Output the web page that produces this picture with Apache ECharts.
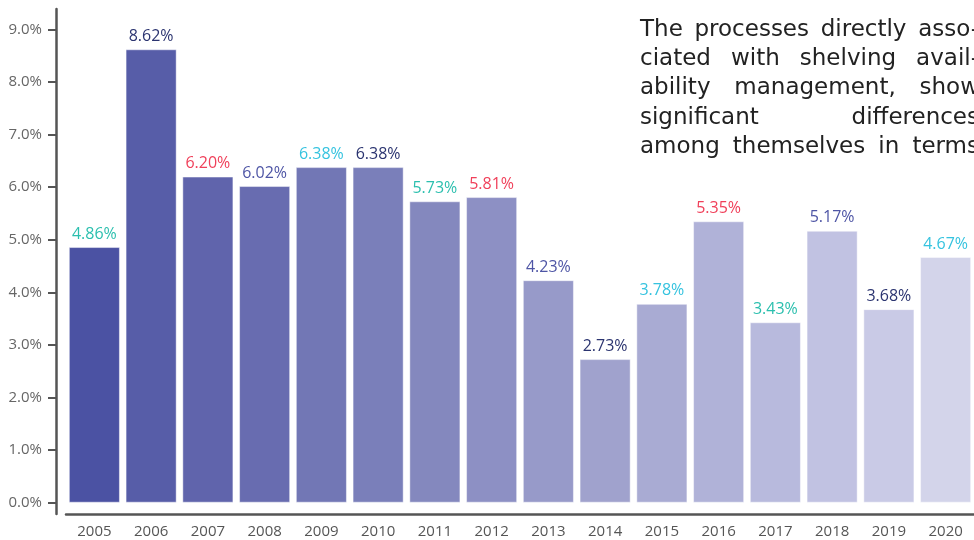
<!DOCTYPE html>
<html>
<head>
<meta charset="utf-8">
<script src="https://cdn.jsdelivr.net/npm/echarts@6/dist/echarts.min.js"></script>
<style>
  html, body { margin: 0; padding: 0; background: #fff; }
  #chart { width: 974px; height: 540px; }
</style>
</head>
<body>
<div id="chart"></div>
<script>
// Yearly share values (%) per year
const years = ['2005','2006','2007','2008','2009','2010','2011','2012','2013','2014','2015','2016','2017','2018','2019','2020'];
const shares = [4.86, 8.62, 6.20, 6.02, 6.38, 6.38, 5.73, 5.81, 4.23, 2.73, 3.78, 5.35, 3.43, 5.17, 3.68, 4.67];
const yTicks = [0, 1, 2, 3, 4, 5, 6, 7, 8, 9];

// Side note, one entry per justified line
const noteLines = [
  'The processes directly asso-',
  'ciated with shelving avail-',
  'ability management, show',
  'significant differences',
  'among themselves in terms'
];

// Fill shades, dark to light across the years
const barColors = ['#4b52a3','#575da8','#6064ac','#686cb0','#7277b5','#7a7fba','#8488be','#8d90c4',
                   '#979ac9','#a0a2cd','#a9abd3','#b0b2d8','#b8badd','#c1c2e2','#c9cae6','#d3d4ea'];
const TEAL = '#2bbfae', NAVY = '#2b3470', RED = '#f0405a', INDIGO = '#4e55a5', CYAN = '#35c3df';
const labelColors = [TEAL, NAVY, RED, INDIGO, CYAN, NAVY, TEAL, RED, INDIGO, NAVY, CYAN, RED, TEAL, INDIGO, NAVY, CYAN];

const AXIS = '#555';
const chart = echarts.init(document.getElementById('chart'), null, { renderer: 'canvas' });

// Justify each note line between a left and right edge
const noteFont = '23px "DejaVu Sans"';
const noteLeft = 640, noteRight = 979, noteTop = 30, noteStep = 29.2;
const measureCtx = document.createElement('canvas').getContext('2d');
measureCtx.font = noteFont;
const noteGraphics = [];
noteLines.forEach((line, li) => {
  const words = line.split(' ');
  const widths = words.map(w => measureCtx.measureText(w).width);
  const total = widths.reduce((a, b) => a + b, 0);
  const gap = words.length > 1 ? (noteRight - noteLeft - total) / (words.length - 1) : 0;
  let x = noteLeft;
  words.forEach((w, wi) => {
    noteGraphics.push({
      type: 'text',
      x: x,
      y: noteTop + li * noteStep,
      style: { text: w, font: noteFont, fill: '#222', verticalAlign: 'middle', align: 'left' },
      silent: true
    });
    x += widths[wi] + gap;
  });
});

chart.setOption({
  animation: false,
  backgroundColor: '#fff',
  grid: { left: 66, top: 9, width: 913.4, height: 505, containLabel: false },
  xAxis: {
    type: 'category',
    data: years,
    axisLine: { onZero: false, lineStyle: { color: AXIS, width: 2.5 } },
    axisTick: { show: false },
    axisLabel: { color: '#555', fontSize: 15, fontFamily: 'Open Sans', margin: 10 },
    splitLine: { show: false }
  },
  yAxis: {
    type: 'value',
    min: -0.215,
    max: 9.386,
    offset: 10,
    axisLine: { show: true, lineStyle: { color: AXIS, width: 2.5 } },
    axisTick: { show: true, length: 8, customValues: yTicks, lineStyle: { color: AXIS, width: 2 } },
    axisLabel: {
      customValues: yTicks,
      formatter: v => v.toFixed(1) + '%',
      color: '#666', fontSize: 15, fontFamily: 'Open Sans', margin: 14
    },
    splitLine: { show: false }
  },
  series: [{
    type: 'bar',
    barCategoryGap: '10%',
    data: shares.map((v, i) => ({
      value: v,
      itemStyle: { color: barColors[i] },
      label: { color: labelColors[i] }
    })),
    itemStyle: { borderColor: 'rgba(255,255,255,0.45)', borderWidth: 1 },
    label: {
      show: true,
      position: 'top',
      distance: 5,
      fontSize: 16,
      fontFamily: 'Open Sans',
      formatter: p => p.value.toFixed(2) + '%'
    }
  }],
  graphic: noteGraphics
});
</script>
</body>
</html>
